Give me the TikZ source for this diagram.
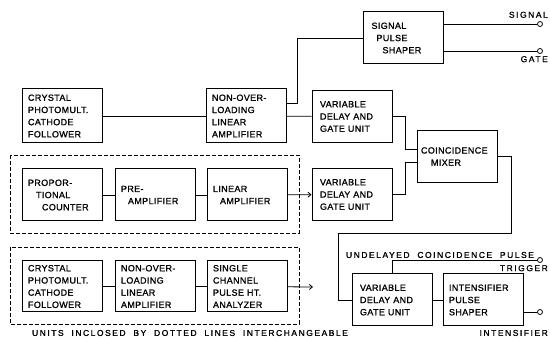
\documentclass[tikz,border=0pt]{standalone}
\usepackage{fontspec}
\setmainfont{Liberation Sans}
\newfontfamily\boxfont[LetterSpace=4,FakeBold=1.2]{Liberation Sans}
\newfontfamily\notefont[LetterSpace=18,WordSpace=2,FakeBold=1.2]{Liberation Sans}
\usetikzlibrary{arrows.meta}

\begin{document}
\begin{tikzpicture}[
    x=1pt, y=-1pt,
    unit/.style={draw, line width=1pt, minimum width=80pt, minimum height=52pt,
                 text width=68pt, inner xsep=6pt, align=left,
                 font=\boxfont\fontsize{9}{12.2}\selectfont},
    tall/.style={unit, minimum height=54pt},
    term/.style={draw, circle, line width=0.8pt, fill=white, inner sep=0pt, minimum size=5pt},
    note/.style={font=\notefont\fontsize{8.5}{10}\selectfont, inner sep=1pt},
    wire/.style={line width=0.8pt},
    feed/.style={wire, -{Straight Barb[length=3pt,width=5pt]}},
    grp/.style={line width=0.7pt, dash pattern=on 4pt off 2pt},
]
\useasboundingbox (0,0) rectangle (550,339);

% ---- top chain ----------------------------------------------------------------
\node[tall] (cryA) at (62,116)    {CRYSTAL\\PHOTOMULT.\\CATHODE\\FOLLOWER};
\node[tall] (nolA) at (246,116)   {NON-OVER-\\LOADING\\LINEAR\\AMPLIFIER};
\node[unit] (vdA)  at (352,116.5) {\hspace*{2pt}VARIABLE\\\hspace*{2pt}DELAY AND\\\hspace*{2pt}GATE UNIT};
\node[unit] (sps)  at (403.5,38)  {\hspace*{2pt}SIGNAL\\\hspace*{7pt}PULSE\\\hspace*{13pt}SHAPER};
\node[unit, text width=72pt, inner xsep=3pt] (mix) at (457,156.5)
      {COINCIDENCE\\\hspace*{10pt}MIXER};

% ---- proportional counter chain ----------------------------------------------
\node[unit] (prop) at (62,195)    {PROPOR-\\\hspace*{8pt}TIONAL\\\hspace*{14pt}COUNTER};
\node[unit] (pre)  at (155,195)   {PRE-\\\hspace*{7pt}AMPLIFIER};
\node[unit] (lin)  at (247,195)   {LINEAR\\\hspace*{7pt}AMPLIFIER};
\node[unit] (vdB)  at (352,194.5) {\hspace*{2pt}VARIABLE\\\hspace*{2pt}DELAY AND\\\hspace*{2pt}GATE UNIT};

% ---- alternative chain --------------------------------------------------------
\node[unit, minimum height=51pt] (cryB)  at (62,286.5)  {CRYSTAL\\PHOTOMULT.\\CATHODE\\FOLLOWER};
\node[unit, minimum height=51pt] (nolB)  at (155,286.5) {NON-OVER-\\LOADING\\LINEAR\\AMPLIFIER};
\node[unit, minimum height=51pt] (schan) at (247,286.5) {SINGLE\\CHANNEL\\PULSE HT.\\ANALYZER};

% ---- intensifier chain --------------------------------------------------------
\node[unit] (vdC) at (392,300) {\hspace*{2pt}VARIABLE\\\hspace*{2pt}DELAY AND\\\hspace*{2pt}GATE UNIT};
\node[unit] (ips) at (483,300) {INTENSIFIER\\PULSE\\SHAPER};

% ---- interchangeable groups ---------------------------------------------------
\draw[grp] (10,155) rectangle (299,233);
\draw[grp] (10,247) rectangle (299,324);
\node[note] (inter) at (190,333) {UNITS INCLOSED BY DOTTED LINES INTERCHANGEABLE};

% ---- outputs ------------------------------------------------------------------
\node[term] (tSig)  at (540,24)  {};
\node[term] (tGate) at (540,51)  {};
\node[term] (tTrig) at (540,260) {};
\node[term] (tInt)  at (540,312) {};
\node[note, anchor=south east] at (549,19)  {SIGNAL};
\node[note, anchor=north east] at (549,55)  {GATE};
\node[note, anchor=north east] at (549,264) {TRIGGER};
\node[note, anchor=east]       at (549,333) {INTENSIFIER};
\node[note] (undel) at (440,255) {UNDELAYED COINCIDENCE PULSE};

\coordinate (loop) at (338,233);
\coordinate (outB) at (313,287);

% ---- connectors ---------------------------------------------------------------
\draw[wire] (cryA) -- (nolA);
\draw[wire] (nolA) -- (vdA);
\draw[wire] ([yshift=13pt]nolA.east) -- ++(11,0) |- (sps.west);
\draw[wire] (sps.east |- tSig) -- (tSig);
\draw[wire] (sps.east |- tGate) -- (tGate);
\draw[wire] (vdA.east) -- ++(13,0) |- ([yshift=7pt]mix.west);
\draw[wire] (vdB.east) -- ++(13,0) |- ([yshift=-6pt]mix.west);
\draw[wire] (prop) -- (pre);
\draw[wire] (pre) -- (lin);
\draw[feed] (lin) -- (vdB);
\draw[wire] (cryB) -- (nolB);
\draw[wire] (nolB) -- (schan);
\draw[feed] (schan) -- (outB);
\draw[wire] (mix.east) -- ++(14,0) |- (loop) |- (vdC.west);
\draw[wire] (vdC.north) |- (tTrig);
\draw[wire] (vdC) -- (ips);
\draw[wire] (ips.east |- tInt) -- (tInt);

\end{tikzpicture}
\end{document}
